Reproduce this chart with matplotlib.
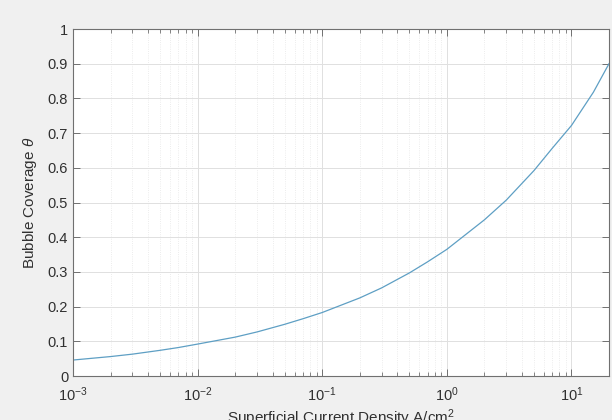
import matplotlib
matplotlib.use('Agg')
import matplotlib.pyplot as plt
from matplotlib.ticker import LogLocator, NullFormatter

# values
current_density = [1e-3, 2e-3, 3e-3, 5e-3, 7e-3,
                   1e-2, 2e-2, 3e-2, 5e-2, 7e-2,
                   0.1, 0.2, 0.3, 0.5, 0.7,
                   1.0, 2.0, 3.0, 5.0, 7.0,
                   10.0, 15.0, 20.0]
coverage = [0.046, 0.056, 0.063, 0.074, 0.082,
            0.092, 0.112, 0.127, 0.149, 0.165,
            0.183, 0.225, 0.254, 0.297, 0.329,
            0.365, 0.450, 0.507, 0.592, 0.656,
            0.722, 0.818, 0.900]

x_ticks = [1e-3, 1e-2, 1e-1, 1e0, 1e1]
x_ticklabels = ['$10^{-3}$', '$10^{-2}$', '$10^{-1}$', '$10^{0}$', '$10^{1}$']
y_ticks = [0, 0.1, 0.2, 0.3, 0.4, 0.5, 0.6, 0.7, 0.8, 0.9, 1]
y_ticklabels = ['0', '0.1', '0.2', '0.3', '0.4', '0.5', '0.6', '0.7', '0.8', '0.9', '1']

plt.rcParams['font.family'] = ['Liberation Sans', 'DejaVu Sans']
plt.rcParams['mathtext.fontset'] = 'custom'
plt.rcParams['mathtext.rm'] = 'Liberation Sans'
plt.rcParams['mathtext.it'] = 'Liberation Sans:italic'

TXT = '#303030'
AX = '#707070'

fig = plt.figure(figsize=(6.12, 4.2), dpi=100, facecolor='#f0f0f0')
ax = fig.add_axes([73/612, 1-376/420, 536/612, 347/420])
ax.set_facecolor('white')

ax.plot(current_density, coverage, color='#5e9fc4', lw=0.9)

ax.set_xscale('log')
ax.set_xlim(1e-3, 20)
ax.set_ylim(0, 1)
ax.set_xticks(x_ticks)
ax.set_xticklabels(x_ticklabels)
ax.xaxis.set_minor_locator(LogLocator(base=10, subs=range(2, 10), numticks=20))
ax.xaxis.set_minor_formatter(NullFormatter())
ax.set_yticks(y_ticks)
ax.set_yticklabels(y_ticklabels)

ax.grid(True, which='major', color='#e0e0e0', lw=0.7)
ax.grid(True, which='minor', axis='x', color='#e6e6e6', lw=0.6, ls=':')
ax.set_axisbelow(True)

ax.tick_params(which='both', direction='in', top=True, right=True, colors=AX,
               labelcolor=TXT, labelsize=10.5)
ax.tick_params(which='major', length=5, width=0.7)
ax.tick_params(which='minor', length=3, width=0.6)
ax.tick_params(axis='x', pad=7)
for s in ax.spines.values():
    s.set_color(AX)
    s.set_linewidth(0.8)

ax.set_ylabel(r'Bubble Coverage $\theta$', fontsize=11, color=TXT, labelpad=6)
ax.set_xlabel(r'Superficial Current Density A/cm$^2$', fontsize=11, color=TXT, labelpad=2)

plt.savefig('out.png', dpi=100, facecolor=fig.get_facecolor())
